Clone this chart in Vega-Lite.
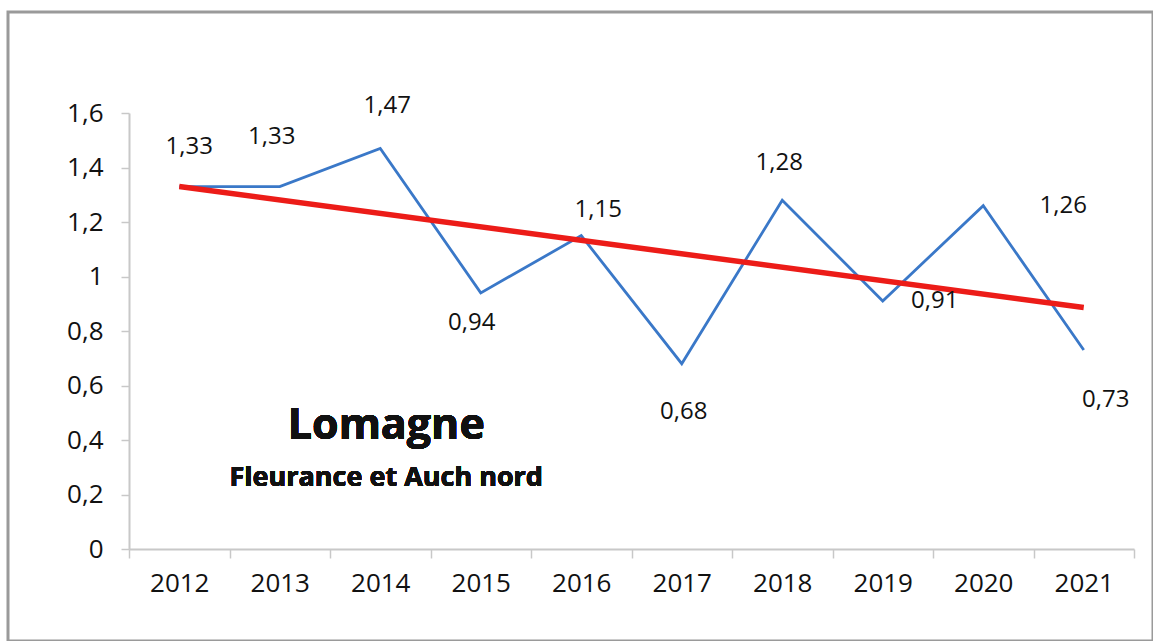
{
  "$schema": "https://vega.github.io/schema/vega-lite/v6.json",
  "width": 1145,
  "height": 629,
  "autosize": {"type": "none"},
  "padding": {"left": 8, "top": 12, "right": 0, "bottom": 0},
  "background": "white",
  "config": {
    "view": {"stroke": "#9a9a9a", "strokeWidth": 3},
    "locale": {"number": {"decimal": ",", "thousands": "\u00a0", "grouping": [3], "currency": ["", " €"]}},
    "font": "Open Sans"
  },
  "data": {
    "values": [
      {"year": 2012, "value": 1.33},
      {"year": 2013, "value": 1.33},
      {"year": 2014, "value": 1.47},
      {"year": 2015, "value": 0.94},
      {"year": 2016, "value": 1.15},
      {"year": 2017, "value": 0.68},
      {"year": 2018, "value": 1.28},
      {"year": 2019, "value": 0.91},
      {"year": 2020, "value": 1.26},
      {"year": 2021, "value": 0.73}
    ]
  },
  "encoding": {
    "x": {
      "field": "year",
      "type": "ordinal",
      "scale": {"type": "band", "paddingInner": 0, "paddingOuter": 0, "range": [121, 1126]},
      "axis": {
        "title": null,
        "labelAngle": 0,
        "tickBand": "extent",
        "offset": -92,
        "domainColor": "#c8c8c8",
        "domainWidth": 2,
        "tickColor": "#c8c8c8",
        "tickWidth": 1.5,
        "tickSize": 9,
        "labelPadding": 12,
        "labelFontSize": 26,
        "labelColor": "#111111",
        "labelFont": "Open Sans"
      }
    },
    "y": {
      "field": "value",
      "type": "quantitative",
      "scale": {"domain": [0, 1.6], "range": [537, 101], "nice": false, "zero": true},
      "axis": {
        "title": null,
        "grid": false,
        "values": [0, 0.2, 0.4, 0.6, 0.8, 1, 1.2, 1.4, 1.6],
        "format": ".1~f",
        "offset": -121,
        "domainColor": "#c8c8c8",
        "domainWidth": 2,
        "tickColor": "#c8c8c8",
        "tickWidth": 1.5,
        "tickSize": 8,
        "labelPadding": 18,
        "labelFontSize": 26,
        "labelColor": "#111111",
        "labelFont": "Open Sans"
      }
    }
  },
  "layer": [
    {"mark": {"type": "line", "color": "#3a78c8", "strokeWidth": 2.8}},
    {
      "transform": [{"regression": "value", "on": "year"}],
      "mark": {"type": "line", "color": "#ec1c18", "strokeWidth": 5.5}
    },
    {"transform": [{"filter": {"field": "year", "equal": 2012}}], "mark": {"type": "text", "fontSize": 24, "color": "#111111", "dx": 10, "dy": -40}, "encoding": {"text": {"field": "value", "type": "quantitative", "format": ".2f"}}},
    {"transform": [{"filter": {"field": "year", "equal": 2013}}], "mark": {"type": "text", "fontSize": 24, "color": "#111111", "dx": -8, "dy": -50}, "encoding": {"text": {"field": "value", "type": "quantitative", "format": ".2f"}}},
    {"transform": [{"filter": {"field": "year", "equal": 2014}}], "mark": {"type": "text", "fontSize": 24, "color": "#111111", "dx": 7, "dy": -42}, "encoding": {"text": {"field": "value", "type": "quantitative", "format": ".2f"}}},
    {"transform": [{"filter": {"field": "year", "equal": 2015}}], "mark": {"type": "text", "fontSize": 24, "color": "#111111", "dx": -9, "dy": 30}, "encoding": {"text": {"field": "value", "type": "quantitative", "format": ".2f"}}},
    {"transform": [{"filter": {"field": "year", "equal": 2016}}], "mark": {"type": "text", "fontSize": 24, "color": "#111111", "dx": 17, "dy": -26}, "encoding": {"text": {"field": "value", "type": "quantitative", "format": ".2f"}}},
    {"transform": [{"filter": {"field": "year", "equal": 2017}}], "mark": {"type": "text", "fontSize": 24, "color": "#111111", "dx": 2, "dy": 48}, "encoding": {"text": {"field": "value", "type": "quantitative", "format": ".2f"}}},
    {"transform": [{"filter": {"field": "year", "equal": 2018}}], "mark": {"type": "text", "fontSize": 24, "color": "#111111", "dx": -3, "dy": -37}, "encoding": {"text": {"field": "value", "type": "quantitative", "format": ".2f"}}},
    {"transform": [{"filter": {"field": "year", "equal": 2019}}], "mark": {"type": "text", "fontSize": 24, "color": "#111111", "dx": 52, "dy": 0}, "encoding": {"text": {"field": "value", "type": "quantitative", "format": ".2f"}}},
    {"transform": [{"filter": {"field": "year", "equal": 2020}}], "mark": {"type": "text", "fontSize": 24, "color": "#111111", "dx": 80, "dy": 0}, "encoding": {"text": {"field": "value", "type": "quantitative", "format": ".2f"}}},
    {"transform": [{"filter": {"field": "year", "equal": 2021}}], "mark": {"type": "text", "fontSize": 24, "color": "#111111", "dx": 22, "dy": 50}, "encoding": {"text": {"field": "value", "type": "quantitative", "format": ".2f"}}},
    {
      "mark": {"type": "text", "fontSize": 43, "fontWeight": "bold", "color": "#111111", "dx": 6, "text": "Lomagne"},
      "encoding": {"x": {"datum": 2014, "type": "ordinal"}, "y": {"datum": 0.45}}
    },
    {
      "mark": {"type": "text", "fontSize": 27, "fontWeight": "bold", "color": "#111111", "dx": 6, "text": "Fleurance et Auch nord"},
      "encoding": {"x": {"datum": 2014, "type": "ordinal"}, "y": {"datum": 0.26}}
    }
  ]
}
